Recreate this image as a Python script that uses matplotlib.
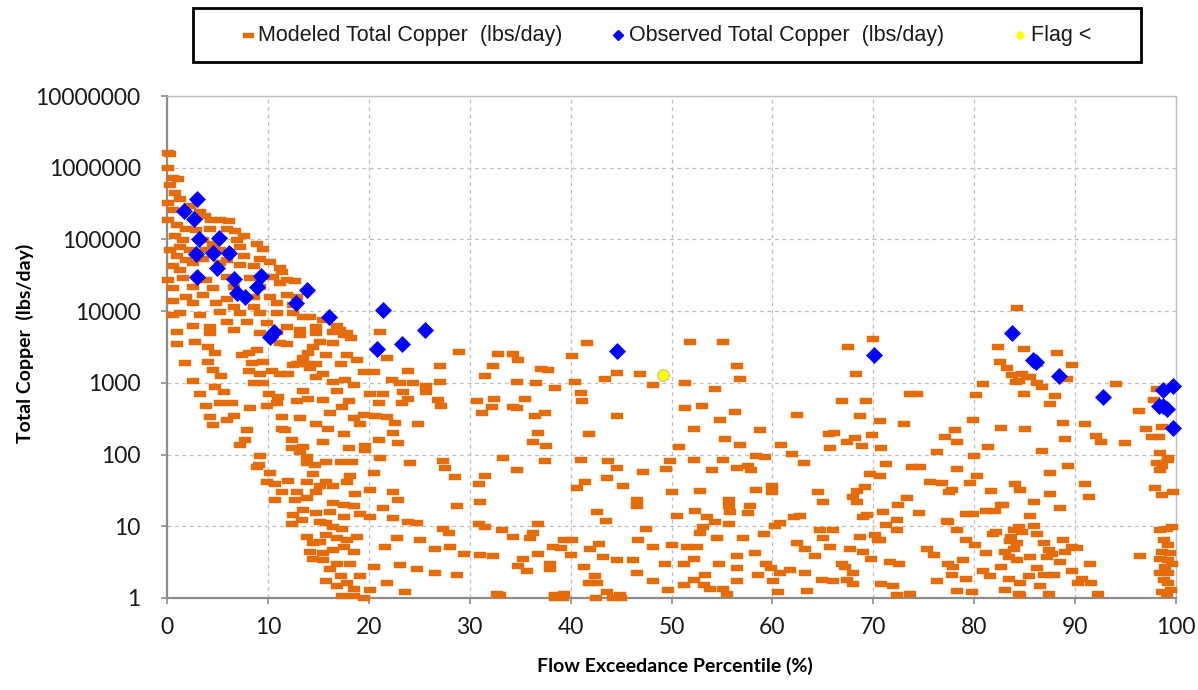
import matplotlib
matplotlib.use("Agg")
import matplotlib.pyplot as plt
from matplotlib.lines import Line2D
from matplotlib.patches import Rectangle
from matplotlib.ticker import FixedLocator, FixedFormatter, NullLocator
import numpy as np

plt.rcParams['font.family'] = ['Lato', 'DejaVu Sans']

# modeled total copper (lbs/day) vs flow exceedance percentile
modeled_0_10 = [
    (0.1, 1.6e6), (0.3, 1.55e6), (0.1, 1.0e6), (0.6, 7.2e5), (1.1, 6.9e5), (0.3, 5.8e5),
    (0.8, 4.4e5), (1.3, 3.7e5), (0.1, 3.2e5), (2.3, 2.95e5), (0.6, 2.6e5), (3.3, 2.45e5),
    (3.8, 2.1e5), (4.4, 1.85e5), (5.3, 1.85e5), (6.1, 1.8e5), (0.1, 1.85e5), (1.0, 1.6e5),
    (1.9, 1.4e5), (2.9, 1.35e5), (4.3, 1.4e5), (5.9, 1.4e5), (6.7, 1.3e5), (0.8, 1.1e5),
    (1.6, 9.8e4), (3.6, 9.8e4), (4.6, 8.7e4), (6.9, 9.8e4), (7.6, 1.1e5), (0.3, 7.1e4),
    (1.3, 7.9e4), (2.3, 7.1e4), (3.9, 7.1e4), (5.3, 7.1e4), (7.2, 7.9e4), (8.9, 8.7e4),
    (9.5, 7.4e4), (1.0, 5.8e4), (1.9, 5.1e4), (3.6, 5.4e4), (5.9, 5.1e4), (7.6, 5.8e4),
    (9.2, 5.4e4), (0.6, 4.2e4), (1.3, 3.7e4), (2.6, 4.7e4), (5.3, 4.7e4), (7.2, 4.4e4),
    (8.6, 4.2e4), (0.1, 2.7e4), (1.6, 2.9e4), (3.9, 2.7e4), (5.9, 3.0e4), (8.2, 2.9e4),
    (0.6, 2.1e4), (2.6, 2.2e4), (4.6, 2.1e4), (6.6, 2.2e4), (9.2, 2.2e4), (1.9, 1.6e4),
    (3.6, 1.66e4), (5.9, 1.5e4), (8.6, 1.6e4), (0.6, 1.4e4), (2.6, 1.3e4), (4.9, 1.3e4),
    (6.6, 1.15e4), (8.6, 1.15e4), (1.3, 9.3e3), (3.3, 8.7e3), (5.3, 9.8e3), (7.2, 9.3e3),
    (9.2, 9.3e3), (0.6, 8.7e3), (2.6, 6.3e3), (4.3, 6.0e3), (5.9, 7.1e3), (7.9, 7.1e3),
    (9.9, 6.8e3), (1.0, 5.1e3), (4.3, 5.0e3), (6.6, 5.5e3), (9.2, 4.9e3),
    (1.0, 3500), (2.8, 3700), (4.1, 3200), (4.8, 2600), (1.8, 1900), (4.1, 1950),
    (4.6, 1500), (5.4, 1250), (2.6, 1070), (8.1, 2600), (8.9, 2900), (7.4, 2450),
    (8.4, 1900), (9.5, 1950), (8.1, 1450), (9.2, 1350), (8.6, 1000), (9.5, 1000),
    (3.3, 710), (4.8, 870), (5.6, 750), (3.9, 480), (5.3, 520), (6.4, 520), (8.2, 440),
    (4.3, 330), (5.9, 300), (4.6, 260), (6.6, 350), (9.9, 480), (7.9, 220), (7.7, 160),
    (7.2, 138), (9.2, 95), (9.1, 71), (8.9, 67), (9.9, 42),
]

modeled_10_20 = [
    (10.2, 4.9e4), (11.2, 4.0e4), (11.4, 3.5e4), (10.5, 3.0e4), (11.9, 2.7e4), (11.2, 2.45e4),
    (12.7, 2.6e4), (10.2, 1.6e4), (11.9, 1.66e4), (12.9, 1.6e4), (10.9, 1.3e4), (12.5, 1.2e4),
    (13.5, 8.3e3), (10.9, 9.3e3), (12.5, 9.3e3), (14.2, 8.3e3), (14.8, 6.0e3), (11.9, 6.0e3),
    (13.2, 5.5e3), (10.9, 5.1e3), (13.2, 4.7e3), (14.8, 4.9e3), (16.5, 5.1e3), (17.8, 4.9e3),
    (15.5, 7.5e3), (16.8, 6.2e3), (17.1, 5.5e3), (18.2, 4.2e3),
    (10.4, 1450), (11.2, 1350), (12.0, 1350), (11.9, 3500), (11.2, 3550), (12.9, 1850),
    (13.5, 2200), (14.0, 2600), (14.5, 3200), (15.2, 3700), (16.5, 3550), (17.5, 4700),
    (15.8, 2450), (14.8, 1850), (14.2, 1600), (14.8, 1200), (15.5, 1350), (16.5, 1040),
    (17.6, 1100), (18.5, 930), (18.8, 2100), (17.8, 2450), (17.2, 1850), (13.9, 1850),
    (13.2, 1850), (12.5, 1780),
    (10.9, 520), (10.1, 710), (11.0, 640), (13.5, 780), (14.0, 600), (12.9, 550), (13.2, 320),
    (11.4, 335), (15.5, 580), (16.8, 780), (18.0, 565), (17.3, 455), (16.2, 375), (14.8, 265),
    (16.0, 230), (18.5, 320), (19.1, 270), (11.4, 230), (11.7, 220), (12.4, 160), (13.5, 128),
    (15.5, 150), (17.5, 195), (18.0, 123), (12.4, 123), (13.2, 110), (13.9, 93),
    (10.2, 56), (10.7, 39), (12.0, 43), (11.4, 30), (12.9, 30), (10.7, 23), (12.7, 23.5),
    (13.9, 25), (14.8, 30), (15.8, 42), (15.2, 36), (16.5, 37), (13.9, 42), (14.5, 54),
    (13.9, 76), (14.7, 71), (15.8, 79), (17.2, 79), (18.3, 79), (18.1, 51), (17.8, 42),
    (18.6, 28), (16.5, 21), (17.5, 20), (18.5, 19), (19.1, 15), (13.5, 17), (14.8, 15.5),
    (16.2, 16), (17.5, 13.5), (12.5, 14.5), (12.4, 10.7), (13.4, 12.3), (15.2, 11.5),
    (15.8, 11), (16.5, 9.8), (17.3, 9.1), (13.9, 7.1), (14.5, 5.8), (15.2, 6.0), (15.8, 7.5),
    (16.8, 6.8), (17.8, 6.4), (18.8, 7.1), (14.2, 4.4), (15.5, 4.3), (16.5, 4.7), (17.5, 5.1),
    (18.5, 4.4), (14.5, 3.5), (15.5, 3.4), (16.8, 3.0), (18.1, 3.0), (16.2, 2.5), (17.2, 2.0),
    (15.8, 1.75), (16.8, 1.45), (17.8, 1.6), (18.5, 1.35), (17.3, 1.05), (18.5, 1.05),
    (19.5, 1.0), (19.1, 2.0),
]

modeled_20_52 = [
    (21.1, 5100), (21.8, 2200), (28.9, 2700), (32.8, 2500), (34.3, 2550), (34.8, 2100),
    (41.6, 3600), (40.1, 2350), (32.3, 1700), (27.1, 1700), (23.9, 1480), (37.1, 1580),
    (37.8, 1500), (31.5, 1230), (46.9, 1320), (44.6, 1380), (43.4, 1150), (48.2, 940),
    (34.7, 1040), (36.6, 1000), (40.4, 1040), (38.5, 840), (51.3, 1000), (51.8, 3700),
    (27.1, 1040), (25.7, 900), (24.4, 1000), (23.1, 980), (22.3, 1100), (19.5, 1430),
    (20.5, 1430), (25.7, 750), (23.4, 750), (21.4, 710), (20.1, 710), (23.9, 600),
    (26.9, 575), (27.2, 480), (23.3, 520), (21.0, 520), (30.7, 560), (32.4, 600),
    (35.5, 600), (41.0, 720), (41.1, 560), (32.2, 460), (31.2, 385), (34.3, 460),
    (34.7, 440), (37.5, 385), (36.5, 340), (44.6, 345), (51.3, 440), (20.6, 340),
    (21.8, 330), (19.5, 355), (24.9, 265), (22.6, 275), (36.8, 197), (36.3, 152),
    (37.6, 132), (41.8, 193), (52.2, 230), (50.7, 128), (22.4, 200), (22.9, 143),
    (21.0, 160), (19.6, 132), (19.6, 115),
    (21.1, 89), (24.1, 76), (27.4, 81), (27.6, 64), (33.3, 89), (34.7, 61), (37.5, 81),
    (41.0, 85), (43.7, 81), (44.6, 66), (43.6, 47), (47.2, 58), (49.5, 63), (49.9, 81),
    (52.2, 83), (20.5, 56), (28.5, 48), (30.9, 39), (31.5, 51), (22.4, 30), (22.9, 23),
    (20.1, 32), (31.0, 22), (28.7, 19), (41.4, 42), (40.6, 34), (45.2, 36), (46.6, 23),
    (46.6, 19), (50.0, 30), (42.6, 16), (43.5, 12), (52.3, 16.4), (50.5, 14),
    (20.1, 13.5), (21.4, 17.8), (22.4, 13), (23.9, 11.5), (24.8, 11.2), (27.4, 9.3),
    (27.9, 8), (30.9, 10.7), (31.5, 9.8), (33.2, 9), (36.3, 8), (36.8, 10.7), (34.3, 7.1),
    (36.0, 6.8), (39.3, 6.5), (40.1, 6.5), (38.3, 5.1), (39.0, 5.0), (42.8, 5.7),
    (41.9, 4.9), (46.7, 6.5), (47.5, 9.3), (48.2, 5.2), (50.0, 5.5), (51.5, 5.2),
    (28.0, 5.1), (26.6, 4.9), (25.1, 6.5), (22.8, 6.8), (21.6, 5.1), (29.4, 4.1),
    (31.0, 4.0), (32.3, 3.8), (35.3, 3.5), (36.8, 4.1), (38.0, 3.0), (40.0, 4.0),
    (41.3, 2.7), (43.2, 3.7), (44.6, 3.4), (46.2, 3.4), (49.4, 3.0), (51.2, 3.0),
    (52.2, 3.5), (20.5, 2.7), (23.1, 2.85), (24.8, 2.5), (26.6, 2.2), (28.7, 2.1),
    (32.7, 1.15), (34.8, 2.75), (35.7, 2.4), (38.0, 2.5), (38.5, 1.1), (39.3, 1.15),
    (42.4, 2.0), (42.6, 1.6), (41.8, 1.6), (43.6, 1.2), (44.9, 1.1), (46.6, 2.2),
    (48.2, 1.7), (49.7, 1.3), (51.2, 1.5), (52.2, 1.8), (20.1, 1.3), (23.6, 1.2),
    (21.8, 1.6), (33.0, 1.1), (38.5, 1.0), (39.2, 1.0), (42.5, 1.0), (44.2, 1.0), (45.0, 1.0),
]

modeled_52_85 = [
    (55.1, 3700), (56.5, 1700), (56.8, 1120), (54.3, 830), (53.0, 470), (56.3, 390),
    (54.8, 300), (58.8, 220), (55.3, 163), (56.8, 135), (58.4, 96), (59.3, 93), (55.1, 84),
    (56.5, 66), (57.6, 69), (57.9, 60), (54.0, 60), (52.8, 31), (55.7, 23), (55.7, 19),
    (55.8, 15.6), (57.8, 19), (57.6, 15.5), (58.4, 32), (60.0, 37), (60.0, 30), (53.5, 13.5),
    (54.3, 11.5), (53.1, 9.8), (55.7, 10.7), (57.1, 6.8), (59.2, 7.8), (52.8, 8), (52.5, 5.1),
    (54.5, 6.8), (58.3, 4.2), (54.7, 3.0), (53.3, 2.1), (56.5, 2.6), (58.6, 2.1), (55.5, 1.15),
    (53.8, 1.35), (60.1, 1.7), (60.8, 2.2), (60.6, 1.2),
    (62.4, 355), (60.9, 138), (61.9, 103), (63.1, 77), (66.9, 565), (69.3, 565), (67.5, 3200),
    (70.0, 4100), (68.3, 1320), (68.7, 340), (65.6, 193), (66.1, 200), (67.4, 150),
    (68.2, 172), (68.9, 132), (65.7, 122), (69.9, 186), (70.7, 295), (70.8, 122), (71.3, 75),
    (73.0, 266), (73.6, 690), (74.3, 690), (69.7, 54), (70.7, 50), (69.2, 35), (68.4, 31),
    (68.0, 26), (68.4, 22), (64.5, 30), (65.0, 22), (69.0, 13.5), (69.4, 14.3), (71.0, 16),
    (72.4, 20), (73.3, 24.5), (72.3, 12.4), (73.8, 68), (74.6, 68), (74.5, 15.5), (75.6, 42),
    (76.8, 40), (76.3, 110), (77.1, 174), (78.1, 218), (78.3, 151), (77.8, 32), (77.5, 30),
    (78.3, 63), (79.6, 40), (80.0, 96), (79.9, 300), (80.2, 675), (80.9, 960), (80.3, 51),
    (81.4, 128), (81.7, 31), (82.9, 20), (82.7, 232), (82.4, 3200), (82.6, 1950),
    (83.3, 1590), (83.7, 1290), (84.1, 1035), (84.0, 39), (84.2, 11000),
    (79.2, 15), (79.9, 15), (81.2, 16.6), (82.1, 16.6), (77.3, 12), (77.4, 11.5), (78.3, 8.9),
    (79.2, 6.5), (80.1, 5.5), (81.9, 7.9), (82.2, 8.3), (83.1, 4.4), (83.9, 8.8), (84.2, 5.8),
    (83.5, 6.3), (71.3, 10.5), (72.3, 9.0), (70.2, 7.5), (68.7, 7.2), (70.7, 6.5), (67.7, 4.9),
    (65.0, 6.8), (64.7, 8.8), (66.0, 8.8), (62.7, 13.8), (62.1, 13.5), (60.8, 11.2),
    (60.3, 10), (62.4, 5.9), (63.2, 4.9), (64.2, 3.8), (65.7, 5.1), (66.9, 3.0), (67.2, 2.7),
    (68.0, 2.2), (66.0, 1.7), (67.4, 1.8), (68.0, 1.55), (69.0, 4.4), (69.8, 3.5),
    (70.5, 6.4), (71.7, 3.2), (72.5, 3.0), (70.8, 1.55), (72.0, 1.45), (72.3, 1.1),
    (73.6, 1.15), (75.3, 4.9), (76.0, 4.0), (77.4, 3.0), (77.9, 2.7), (78.9, 3.4), (77.8, 2.1),
    (79.2, 1.85), (76.3, 1.75), (78.3, 1.25), (79.8, 1.2), (80.9, 2.4), (81.6, 2.0),
    (81.2, 4.2), (82.7, 2.7), (83.4, 1.85), (84.2, 3.4), (83.1, 1.3), (84.4, 1.15),
    (63.4, 1.25), (64.9, 1.8), (63.2, 2.2), (61.7, 2.45), (59.4, 3.0), (56.5, 3.8),
    (56.5, 1.75), (53.2, 1.5), (55.1, 1.35), (59.9, 2.6),
]

modeled_85_100 = [
    (84.9, 2950), (88.2, 2600), (86.2, 1850), (89.7, 1800), (84.7, 1320), (85.5, 1200),
    (85.2, 1200), (89.2, 1120), (84.4, 1060), (86.2, 1000), (86.7, 870), (88.0, 650),
    (87.5, 510), (84.9, 710), (94.1, 960), (98.1, 815), (97.8, 575), (96.3, 405), (88.8, 275),
    (91.0, 265), (85.0, 225), (89.0, 163), (92.1, 182), (92.6, 152), (94.9, 143), (97.0, 225),
    (97.6, 174), (98.3, 174), (98.6, 245), (86.7, 113), (98.4, 106), (99.2, 91), (98.1, 76),
    (98.6, 69), (98.4, 60), (99.2, 85), (87.5, 56), (89.3, 69), (84.5, 32), (87.5, 28),
    (85.9, 22), (88.5, 18), (91.0, 39), (91.4, 26), (97.9, 34), (98.6, 27), (99.7, 30),
    (82.7, 19.5), (85.5, 14), (84.4, 9.8), (85.9, 10), (84.7, 8.3), (83.6, 7), (86.2, 7.8),
    (88.8, 6.5), (89.7, 5.2), (90.2, 5.0), (86.9, 5.9), (87.4, 4.7), (87.7, 4.1), (88.5, 3.2),
    (89.0, 4.4), (83.9, 4.9), (83.4, 3.7), (85.5, 3.7), (87.2, 3.7), (86.2, 2.6), (86.9, 2.1),
    (85.4, 2.0), (87.9, 2.1), (89.7, 2.4), (91.5, 3.0), (90.7, 1.85), (90.3, 1.6), (91.6, 1.6),
    (92.3, 1.15), (84.5, 1.6), (84.5, 1.1), (86.5, 1.45), (87.4, 1.15), (96.4, 3.8),
    (98.4, 8.8), (99.1, 9.3), (99.6, 9.8), (98.8, 6.5), (99.2, 5.5), (98.6, 4.4), (99.4, 4.2),
    (98.4, 3.5), (99.2, 3.4), (99.6, 3.0), (98.9, 2.7), (98.4, 2.2), (99.2, 2.2), (98.8, 1.8),
    (99.2, 1.6), (98.6, 1.2), (99.1, 1.15), (99.5, 1.3),
]

observed_pct = [1.7, 2.7, 3.0, 3.2, 5.2, 2.9, 4.6, 6.1, 5.0, 3.0, 6.6, 9.3, 8.9, 6.9, 7.7,
                13.9, 12.8, 16.1, 10.6, 10.2, 21.4, 25.6, 20.8, 23.3, 44.6, 70.1, 83.7,
                85.8, 86.1, 88.4, 92.8, 98.7, 99.7, 98.3, 98.7, 99.1, 99.7]
observed_cu = [2.5e5, 1.9e5, 3.65e5, 1.0e5, 1.06e5, 6.3e4, 6.5e4, 6.5e4, 4.0e4, 3.0e4, 2.8e4,
               3.1e4, 2.2e4, 1.8e4, 1.6e4, 1.95e4, 1.3e4, 8.3e3, 5.2e3, 4.4e3, 1.04e4, 5.5e3,
               2.95e3, 3.5e3, 2.75e3, 2.45e3, 4.9e3, 2.1e3, 1.95e3, 1.24e3, 630, 800, 900,
               480, 470, 430, 235]

flag_pct = [49.2]
flag_cu = [1300]

y_ticks = [1, 10, 100, 1000, 10000, 100000, 1000000, 10000000]
x_ticks = [0, 10, 20, 30, 40, 50, 60, 70, 80, 90, 100]

modeled = modeled_0_10 + modeled_10_20 + modeled_20_52 + modeled_52_85 + modeled_85_100
mod_x = [p[0] for p in modeled]
mod_y = [p[1] for p in modeled]

orange = '#E46C0A'
dash = [(-1, -0.42), (1, -0.42), (1, 0.42), (-1, 0.42), (-1, -0.42)]

fig = plt.figure(figsize=(11.98, 6.9), dpi=100)
ax = fig.add_axes([167/1198, 1-598/690, (1176-167)/1198, (598-96)/690])

ax.plot(mod_x, mod_y, ls='none', marker=dash, ms=8.6, mfc=orange, mec=orange, mew=0.3,
        clip_on=False, zorder=3)
ax.plot(observed_pct, observed_cu, ls='none', marker='D', ms=8.5, mfc='#0000FF',
        mec='#0000FF', mew=0.5, clip_on=False, zorder=4)
ax.plot(flag_pct, flag_cu, ls='none', marker='o', ms=8.5, mfc='#FFFF00', mec='#B0B0B0',
        mew=0.6, zorder=5)

ax.set_yscale('log')
ax.set_ylim(1, 1e7)
ax.set_xlim(0, 100)
ax.yaxis.set_major_locator(FixedLocator(y_ticks))
ax.yaxis.set_major_formatter(FixedFormatter([str(v) for v in y_ticks]))
ax.yaxis.set_minor_locator(NullLocator())
ax.set_xticks(x_ticks)
ax.set_xticklabels([str(v) for v in x_ticks])

ax.grid(True, which='major', ls=(0, (3, 3)), color='#BFBFBF', lw=0.9, zorder=0)
ax.set_axisbelow(True)
for s in ['left', 'bottom']:
    ax.spines[s].set_color('#8C8C8C')
    ax.spines[s].set_linewidth(1.6)
for s in ['top', 'right']:
    ax.spines[s].set_color('#BFBFBF')
    ax.spines[s].set_linewidth(1.0)
ax.tick_params(axis='both', direction='out', length=4, width=1.2, color='#8C8C8C',
               labelsize=16.5, labelcolor='#1A1A1A')
ax.tick_params(axis='x', pad=10)
ax.tick_params(axis='y', pad=15)

ax.set_xlabel('Flow Exceedance Percentile (%)', fontsize=14, fontweight='bold')
ax.set_ylabel('Total Copper  (lbs/day)', fontsize=14, fontweight='bold')
ax.xaxis.set_label_coords(0.503, -0.117)
ax.yaxis.set_label_coords(-0.132, 0.508)

# legend box drawn on the figure, entries placed like the original
fig.patches.append(Rectangle((193/1198, 1-62/690), 948/1198, 54/690, transform=fig.transFigure,
                             fill=False, ec='black', lw=2))
legend_y = 1 - 35/690
legend_items = [
    ('Modeled Total Copper  (lbs/day)', 248, 258, dict(marker=dash, ms=6.5, mfc=orange, mec=orange)),
    ('Observed Total Copper  (lbs/day)', 618, 629, dict(marker='D', ms=5.5, mfc='#0000FF', mec='#0000FF')),
    ('Flag <', 1020, 1031, dict(marker='o', ms=5, mfc='#FFFF00', mec='#FFFF00')),
]
for label, mx, tx, style in legend_items:
    fig.add_artist(Line2D([mx/1198], [legend_y], ls='none', transform=fig.transFigure, **style))
    fig.text(tx/1198, legend_y, label, ha='left', va='center', fontsize=15.5,
             family='Liberation Sans', color='#1A1A1A')

plt.savefig('out.png', dpi=100)
